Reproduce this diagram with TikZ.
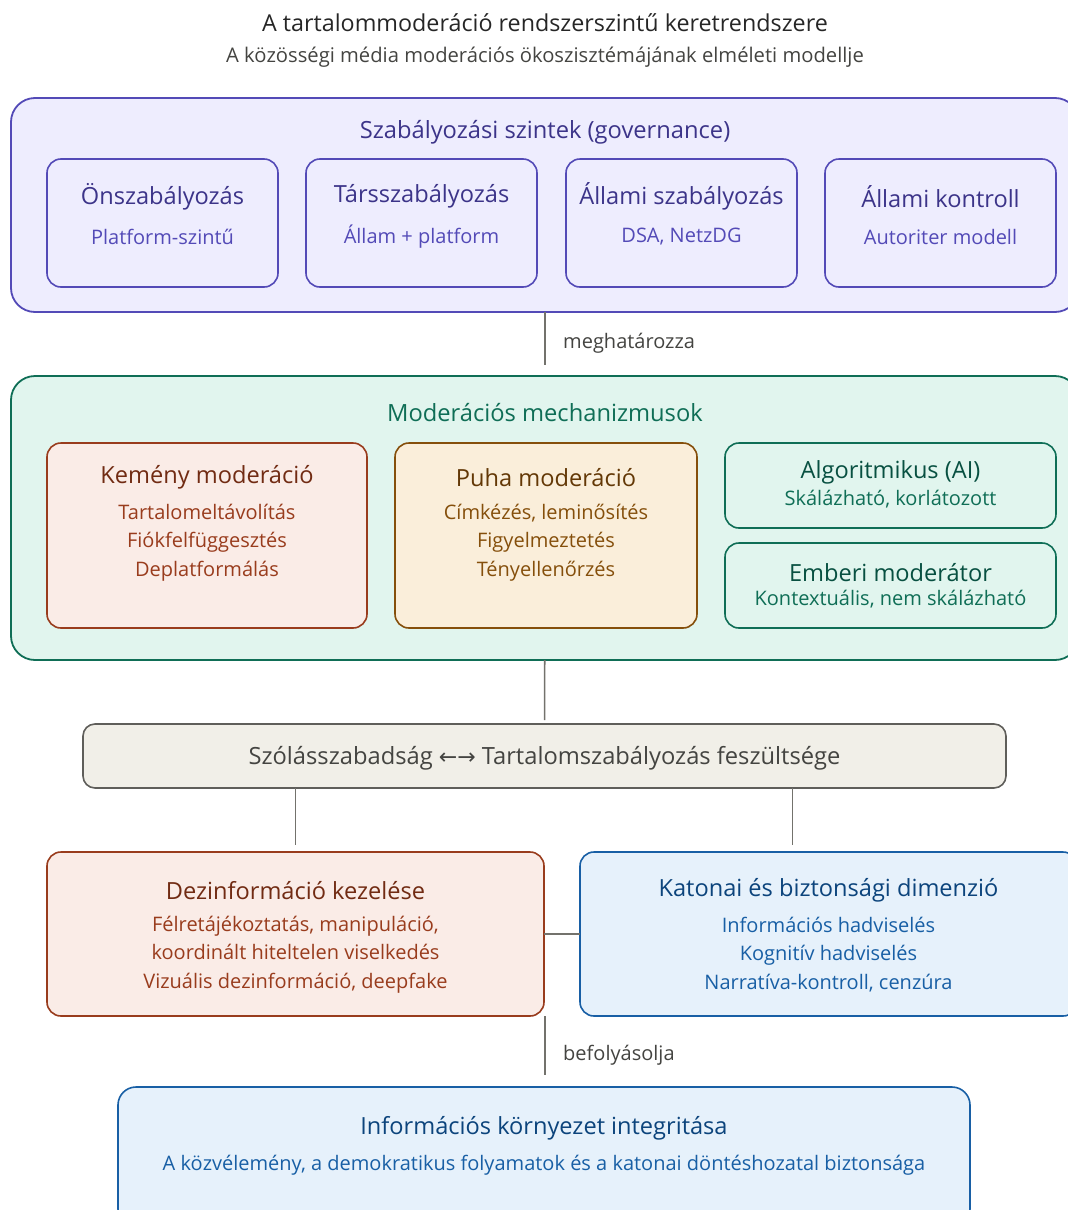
\documentclass[tikz,border=0pt]{standalone}
\usepackage{fontspec}
\setmainfont{Open Sans}
\newfontfamily\arrowfont{DejaVu Sans}
\definecolor{govfill}{HTML}{EEEDFE}
\definecolor{govline}{HTML}{534AB7}
\definecolor{govdark}{HTML}{3C3489}
\definecolor{modfill}{HTML}{E1F5EE}
\definecolor{modline}{HTML}{0F6E56}
\definecolor{moddark}{HTML}{085041}
\definecolor{hardfill}{HTML}{FAECE7}
\definecolor{hardline}{HTML}{993C1D}
\definecolor{harddark}{HTML}{712B13}
\definecolor{softfill}{HTML}{FAEEDA}
\definecolor{softline}{HTML}{854F0B}
\definecolor{softdark}{HTML}{633806}
\definecolor{tensfill}{HTML}{F1EFE8}
\definecolor{tensline}{HTML}{5F5E5A}
\definecolor{tenstext}{HTML}{444441}
\definecolor{secfill}{HTML}{E6F1FB}
\definecolor{secline}{HTML}{185FA5}
\definecolor{secdark}{HTML}{0C447C}
\definecolor{linkgray}{HTML}{73726C}
\begin{document}
\begin{tikzpicture}%
	[x=1pt, y=-1pt,
	box/.style={inner sep=0pt, outer sep=0pt, line width=1.6pt, rounded corners=14pt},
	outerbox/.style={box, line width=1.8pt, rounded corners=24pt},
	govouter/.style={outerbox, draw=govline, fill=govfill},
	modouter/.style={outerbox, draw=modline, fill=modfill},
	govbox/.style={box, draw=govline, fill=govfill, minimum width=231pt, minimum height=128pt},
	hardbox/.style={box, draw=hardline, fill=hardfill},
	softbox/.style={box, draw=softline, fill=softfill},
	modbox/.style={box, draw=modline, fill=modfill, minimum width=331pt, minimum height=85pt},
	tensbox/.style={box, draw=tensline, fill=tensfill, rounded corners=12pt},
	secbox/.style={box, draw=secline, fill=secfill},
	link/.style={draw=linkgray, line width=1.6pt},
	headtext/.style={inner sep=0pt, yshift=-2.5pt, font=\fontsize{23.7}{28}\selectfont},
	titletext/.style={inner sep=0pt, yshift=-2.5pt, font=\fontsize{23.6}{28}\selectfont},
	linetext/.style={inner sep=0pt, yshift=-2.5pt, align=center, font=\fontsize{20}{28.5}\selectfont},
	linklabel/.style={inner sep=0pt, yshift=-2pt, anchor=west, text=tenstext, font=\fontsize{20}{24}\selectfont}]
	%
	\useasboundingbox (0,0) rectangle (1068,1210);
	%
	%% Title
	%%
	\node[inner sep=0pt, text=black!85, font=\fontsize{23.3}{28}\selectfont] (title) at (545,23) {A tartalommoderáció rendszerszintű keretrendszere};
	\node[inner sep=0pt, text=tenstext, font=\fontsize{20.2}{24}\selectfont] (subtitle) at (545,57.5) {A közösségi média moderációs ökoszisztémájának elméleti modellje};
	%%
	%%
	%% Governance levels
	%%
	\node[govouter, minimum width=1068pt, minimum height=214pt] (gov) at (545,205) {};
	\node[headtext, text=govdark] (govhead) at (545,130) {Szabályozási szintek (governance)};
	\node[govbox] (onsz) at (162.5,223) {};
	\node[govbox] (tarsz) at (421.5,223) {};
	\node[govbox] (allsz) at (681.5,223) {};
	\node[govbox] (allko) at (940.5,223) {};
	\node[titletext, text=govdark] (onszt) at (162.5,194) {Önszabályozás};
	\node[titletext, text=govdark] (tarszt) at (421.5,194) {Társszabályozás};
	\node[titletext, text=govdark] (allszt) at (681.5,194) {Állami szabályozás};
	\node[titletext, text=govdark] (allkot) at (940.5,194) {Állami kontroll};
	\node[linetext, text=govline] (onszs) at (162.5,234) {Platform-szintű};
	\node[linetext, text=govline] (tarszs) at (421.5,234) {Állam + platform};
	\node[linetext, text=govline] (allszs) at (681.5,234) {DSA, NetzDG};
	\node[linetext, text=govline] (allkos) at (940.5,234) {Autoriter modell};
	%%
	%%
	%% Moderation mechanisms
	%%
	\node[modouter, minimum width=1068pt, minimum height=284pt] (mod) at (545,518) {};
	\node[headtext, text=modline] (modhead) at (545,410) {Moderációs mechanizmusok};
	\node[hardbox, minimum width=320pt, minimum height=185pt] (hard) at (207,535.5) {};
	\node[titletext, text=harddark] (hardt) at (207,475) {Kemény moderáció};
	\node[linetext, text=hardline] (hardl) at (207,540) {Tartalomeltávolítás\\Fiókfelfüggesztés\\Deplatformálás};
	\node[softbox, minimum width=302pt, minimum height=185pt] (soft) at (546,535.5) {};
	\node[titletext, text=softdark] (softt) at (546,475) {Puha moderáció};
	\node[linetext, text=softline] (softl) at (546,540) {Címkézés, leminősítés\\Figyelmeztetés\\Tényellenőrzés};
	\node[modbox] (algo) at (890.5,485.5) {};
	\node[titletext, text=moddark] (algot) at (890.5,470) {Algoritmikus (AI)};
	\node[linetext, text=modline] (algos) at (890.5,497) {Skálázható, korlátozott};
	\node[modbox] (human) at (890.5,585.5) {};
	\node[titletext, text=moddark] (humant) at (890.5,570) {Emberi moderátor};
	\node[linetext, text=modline] (humans) at (890.5,597) {Kontextuális, nem skálázható};
	%%
	%%
	%% Tension
	%%
	\node[tensbox, minimum width=923pt, minimum height=64pt] (tens) at (544.5,756) {};
	\node[headtext, text=tenstext] (tenst) at (544.5,756) {Szólásszabadság {\arrowfont\fontsize{22}{26}\selectfont ←→} Tartalomszabályozás feszültsége};
	%%
	%%
	%% Disinformation and security
	%%
	\node[hardbox, minimum width=497pt, minimum height=164pt] (dez) at (295.5,934) {};
	\node[titletext, text=harddark] (dezt) at (295.5,888) {Dezinformáció kezelése};
	\node[linetext, text=hardline] (dezl) at (295.5,952) {Félretájékoztatás, manipuláció,\\koordinált hiteltelen viselkedés\\Vizuális dezinformáció, deepfake};
	\node[secbox, minimum width=497pt, minimum height=164pt] (kat) at (828.5,934) {};
	\node[titletext, text=secdark] (katt) at (828.5,888) {Katonai és biztonsági dimenzió};
	\node[linetext, text=secline] (katl) at (828.5,952) {Információs hadviselés\\Kognitív hadviselés\\Narratíva-kontroll, cenzúra};
	%%
	%%
	%% Integrity
	%%
	\node[secbox, minimum width=852pt, minimum height=140pt, rounded corners=18pt] (integ) at (544,1157) {};
	\node[titletext, text=secdark] (integt) at (544,1126) {Információs környezet integritása};
	\node[linetext, text=secline] (integs) at (544,1163) {A közvélemény, a demokratikus folyamatok és a katonai döntéshozatal biztonsága};
	%%
	%%
	%% Links
	%%
	\coordinate (infofoot) at (545,1016);
	\draw[link, shorten >=11pt] (gov) -- (mod);
	\node[linklabel] (govlabel) at (563,341) {meghatározza};
	\draw[link, shorten >=4pt] (mod) -- (tens);
	\draw[link, shorten >=7pt] (tens.south -| dez.north) -- (dez.north);
	\draw[link, shorten >=7pt] ([xshift=248pt]tens.south) -- ([xshift=248pt]tens.south |- kat.north);
	\draw[link, line width=2.6pt] (dez) -- (kat);
	\draw[link, shorten >=12pt] (infofoot) -- (infofoot |- integ.north);
	\node[linklabel] (integlabel) at (563,1053) {befolyásolja};
\end{tikzpicture}
\end{document}
